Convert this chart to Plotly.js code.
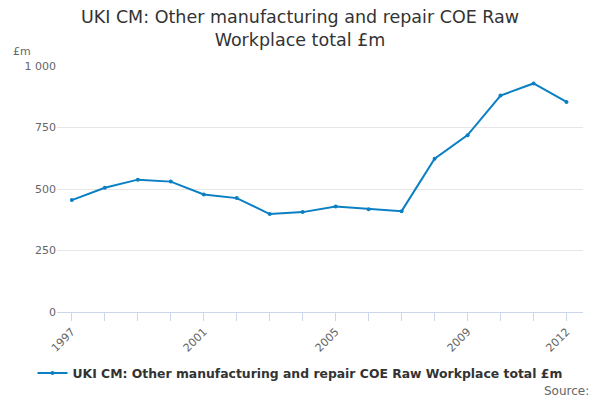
<!DOCTYPE html>
<html>
<head>
<meta charset="utf-8">
<script src="https://cdn.plot.ly/plotly-3.0.1.min.js"></script>
<style>
  body { margin: 0; padding: 0; }
  #chart { width: 600px; height: 400px; }
</style>
</head>
<body>
<div id="chart"></div>
<script>
// valeurs
var annees = [1997, 1998, 1999, 2000, 2001, 2002, 2003, 2004, 2005, 2006, 2007, 2008, 2009, 2010, 2011, 2012];
var valeurs = [455, 505, 538, 530, 478, 463, 398, 406, 429, 418, 410, 623, 719, 880, 929, 854];
var anneesAffichees = [1997, 2001, 2005, 2009, 2012];
var yTicks = [0, 250, 500, 750, 1000];
var yLabels = ['0', '250', '500', '750', '1 000'];
var nomSerie = 'UKI CM: Other manufacturing and repair COE Raw Workplace total £m';

var texteAnnees = annees.map(function(a) {
	return anneesAffichees.indexOf(a) >= 0 ? String(a) : '';
});

var trace = {
	x: annees,
	y: valeurs,
	name: nomSerie,
	type: 'scatter',
	mode: 'lines+markers',
	line: { color: '#0a7fc4', width: 2 },
	marker: { color: '#0a7fc4', size: 4 }
};

var layout = {
	width: 600,
	height: 400,
	margin: { l: 57, r: 17, t: 66, b: 88 },
	paper_bgcolor: '#ffffff',
	plot_bgcolor: '#ffffff',
	font: { family: 'DejaVu Sans, sans-serif', color: '#666666', size: 11 },
	title: {
		text: 'UKI CM: Other manufacturing and repair COE Raw<br>Workplace total £m',
		font: { size: 17.5, color: '#333333' },
		x: 0.5, xanchor: 'center',
		y: 0.943, yanchor: 'middle', yref: 'container'
	},
	xaxis: {
		range: [1996.55, 2012.5],
		tickvals: annees,
		ticktext: texteAnnees,
		tickangle: -45,
		ticks: 'outside',
		ticklen: 8,
		tickcolor: '#ccd6eb',
		showline: true,
		linecolor: '#ccd6eb',
		showgrid: false,
		zeroline: false,
		tickfont: { size: 11, color: '#666666' }
	},
	yaxis: {
		range: [0, 1000],
		tickvals: yTicks,
		ticktext: yLabels,
		showgrid: true,
		gridcolor: '#e6e6e6',
		zeroline: false,
		showline: false,
		ticks: '',
		tickfont: { size: 11, color: '#666666' }
	},
	showlegend: true,
	legend: {
		orientation: 'h',
		x: 0.462, xanchor: 'center',
		y: -0.25, yanchor: 'middle',
		itemwidth: 30,
		font: { size: 12.4, color: '#333333', weight: 'bold' }
	},
	annotations: [
		{
			text: '£m', xref: 'paper', yref: 'paper',
			x: -0.087, y: 1.057, xanchor: 'left', yanchor: 'middle',
			showarrow: false, font: { size: 11, color: '#666666' }
		},
		{
			text: 'Source:', xref: 'paper', yref: 'paper',
			x: 1.015, y: -0.323, xanchor: 'right', yanchor: 'middle',
			showarrow: false, font: { size: 12, color: '#666666' }
		}
	]
};

Plotly.newPlot('chart', [trace], layout, { displayModeBar: false, staticPlot: true });
</script>
</body>
</html>
